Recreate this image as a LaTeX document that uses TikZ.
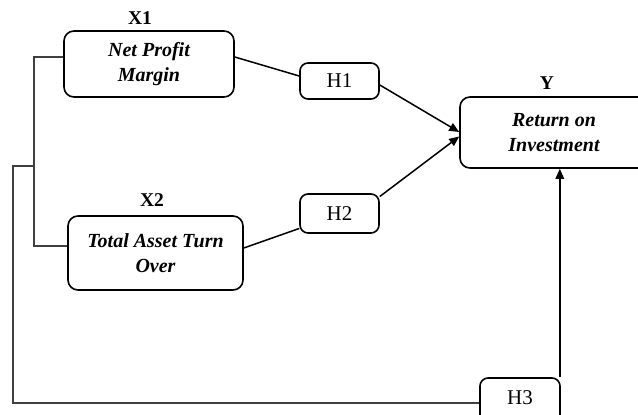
\documentclass[tikz,border=0pt]{standalone}
\usepackage{fontspec}
\setmainfont{Liberation Serif}
\usetikzlibrary{arrows.meta,calc}
\begin{document}
\begin{tikzpicture}[x=1pt,y=-1pt,
  box/.style={draw,line width=1.6pt,rounded corners=10pt,inner sep=0pt,align=center,font=\fontsize{20}{25}\selectfont\bfseries\itshape},
  hbox/.style={draw,line width=1.6pt,rounded corners=8pt,inner sep=0pt,font=\fontsize{21}{24}\selectfont},
  lbl/.style={font=\fontsize{19.5}{23}\selectfont\bfseries},
  conn/.style={line width=1.5pt},
  wire/.style={line width=1.4pt,draw=black!75},
  arr/.style={line width=1.5pt,-{Triangle[length=10pt,width=8.5pt]}}]
\useasboundingbox (0,0) rectangle (638,415);
\clip (0,0) rectangle (638,415);
% nodes
\node[box,minimum width=170pt,minimum height=66pt] (npm) at (149,64) {Net Profit\\Margin};
\node[lbl] (x1) at (140,18) {X1};
\node[box,minimum width=175pt,minimum height=74pt] (tat) at (155.5,253) {Total Asset Turn\\Over};
\node[lbl] (x2) at (152,200) {X2};
\node[box,minimum width=190pt,minimum height=71pt] (roi) at (555,132.5) {};
\node[box,draw=none] (roit) at (554,132.5) {Return on\\Investment};
\node[lbl] (y) at (547,83) {Y};
\node[hbox,minimum width=79pt,minimum height=36pt] (h1) at (339.5,81) {H1};
\node[hbox,minimum width=79pt,minimum height=39pt] (h2) at (339.5,213.5) {H2};
\node[hbox,minimum width=80pt,minimum height=54pt] (h3) at (520,405) {};
\node[font=\fontsize{21}{24}\selectfont] (h3t) at (520,398) {H3};
% helper coordinates
\coordinate (a) at (34,57);
\coordinate (b) at (34,246);
\coordinate (c) at (34,166);
\coordinate (d) at (13,166);
\coordinate (e) at (13,403);
% wires
\draw[wire] ([yshift=7pt]npm.west) -- (a) -- (b) -- ([yshift=7pt]tat.west);
\draw[wire] (c) -- (d) -- (e) -- ([yshift=2pt]h3.west);
% connectors
\draw[conn] ([yshift=7pt]npm.east) -- ([yshift=5pt]h1.west);
\draw[conn] ([yshift=5pt]tat.east) -- ([yshift=-15pt]h2.west);
\draw[arr] ([yshift=-4pt]h1.east) -- ([yshift=0.5pt]roi.west);
\draw[arr] ([yshift=17pt]h2.east) -- ([yshift=-4pt]roi.west);
\draw[arr] ([xshift=-1pt]h3.north east) -- ([xshift=-1pt]h3.north east |- roi.south);
\end{tikzpicture}
\end{document}
